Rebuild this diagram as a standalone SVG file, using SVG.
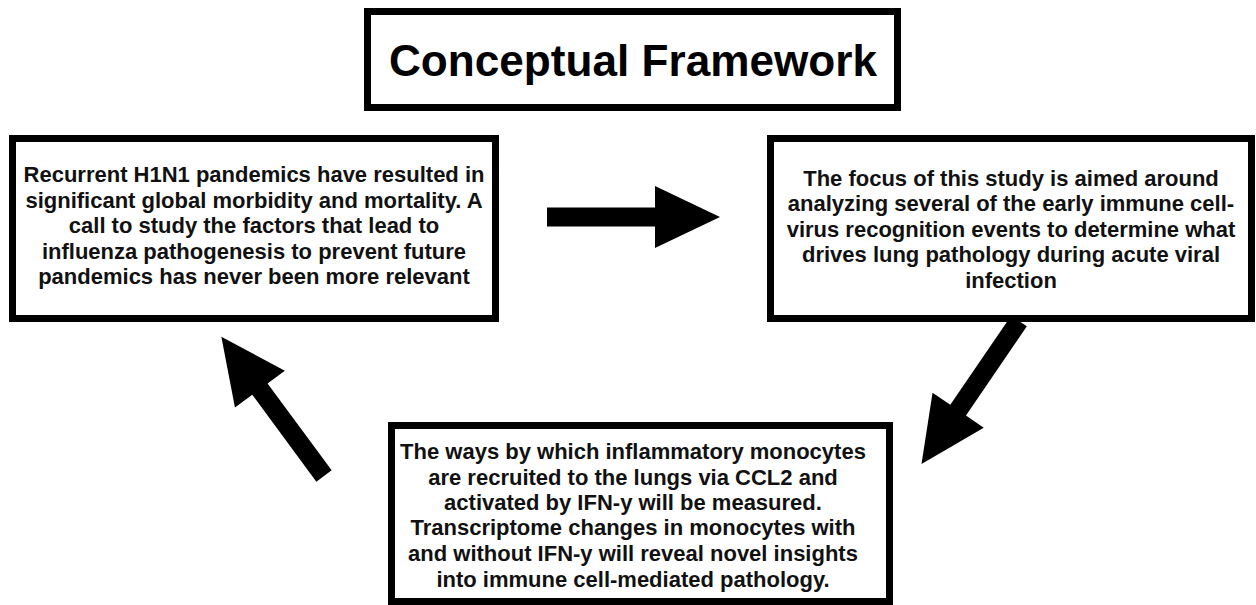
<svg xmlns="http://www.w3.org/2000/svg" width="1256" height="605" viewBox="0 0 1256 605">
  <style>
    .box { fill: #ffffff; stroke: #000000; stroke-width: 7; }
    .title { font-family: "Liberation Sans", Arial, Helvetica, sans-serif; font-weight: bold; font-size: 45px; fill: #000000; text-anchor: middle; }
    .body { font-family: "Liberation Sans", Arial, Helvetica, sans-serif; font-weight: bold; font-size: 22px; fill: #111111; text-anchor: middle; }
    .arrow { fill: #000000; }
  </style>
  <defs>
    <polygon id="arrowShape" points="0,-9.5 108,-9.5 108,-31 173,0 108,31 108,9.5 0,9.5"/>
  </defs>
  <rect width="1256" height="605" fill="#ffffff"/>

  <g id="title">
    <rect class="box" x="367.5" y="11.5" width="530" height="96"/>
    <text class="title" x="633" y="76" textLength="488" lengthAdjust="spacingAndGlyphs">Conceptual Framework</text>
  </g>

  <g id="node-left">
    <rect class="box" x="12.5" y="138.5" width="483" height="180"/>
    <text class="body" x="254" y="182">Recurrent H1N1 pandemics have resulted in</text>
    <text class="body" x="254" y="208">significant global morbidity and mortality. A</text>
    <text class="body" x="254" y="233">call to study the factors that lead to</text>
    <text class="body" x="254" y="259">influenza pathogenesis to prevent future</text>
    <text class="body" x="254" y="284">pandemics has never been more relevant</text>
  </g>

  <g id="node-right">
    <rect class="box" x="770.5" y="138.5" width="481" height="180"/>
    <text class="body" x="1011" y="186">The focus of this study is aimed around</text>
    <text class="body" x="1011" y="211">analyzing several of the early immune cell-</text>
    <text class="body" x="1011" y="237">virus recognition events to determine what</text>
    <text class="body" x="1011" y="262">drives lung pathology during acute viral</text>
    <text class="body" x="1011" y="288">infection</text>
  </g>

  <g id="node-bottom">
    <rect class="box" x="391.5" y="425.5" width="498" height="176"/>
    <text class="body" x="633" y="459">The ways by which inflammatory monocytes</text>
    <text class="body" x="633" y="485">are recruited to the lungs via CCL2 and</text>
    <text class="body" x="633" y="510">activated by IFN-y will be measured.</text>
    <text class="body" x="633" y="535">Transcriptome changes in monocytes with</text>
    <text class="body" x="633" y="561">and without IFN-y will reveal novel insights</text>
    <text class="body" x="633" y="587">into immune cell-mediated pathology.</text>
  </g>

  <g id="connectors">
    <use href="#arrowShape" class="arrow" transform="translate(547,217)"/>
    <use href="#arrowShape" class="arrow" transform="translate(1019,321) rotate(124.3)"/>
    <use href="#arrowShape" class="arrow" transform="translate(324,476) rotate(-126.4)"/>
  </g>
</svg>
